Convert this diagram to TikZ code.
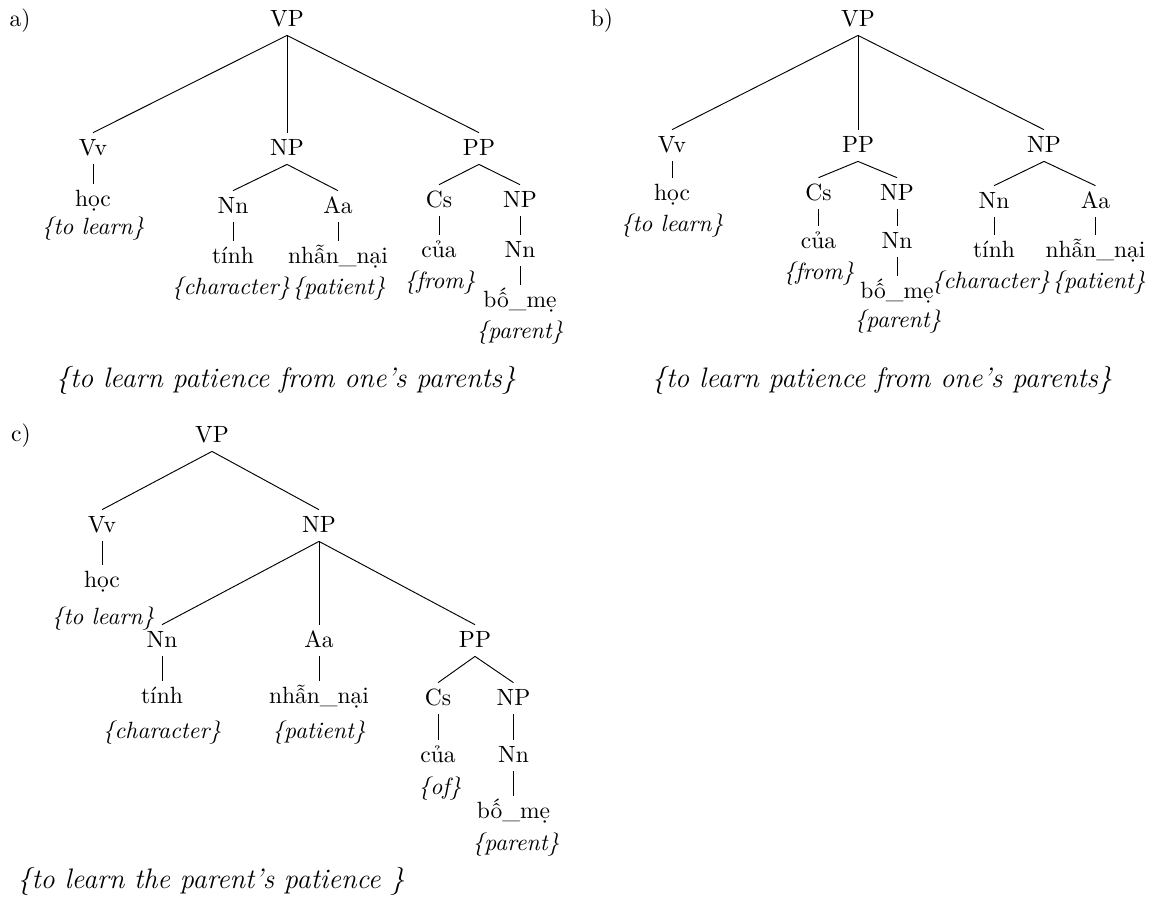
\documentclass[tikz,border=0pt]{standalone}
\usepackage{fontspec}
\newcommand\glosstext[1]{\textit{\{#1\}}}
\tikzset{
  tag/.style={anchor=base, inner sep=0pt},
  cat/.style={anchor=base, inner xsep=1pt, inner ysep=3.3pt, text height=6pt, text depth=0.5pt},
  gloss/.style={anchor=base, inner sep=0pt},
  sentence/.style={anchor=base, inner sep=0pt, font=\large},
  branch/.style={draw=black, line width=0.4pt}
}
\begin{document}
\begin{tikzpicture}[x=0.4255pt, y=-0.4255pt]
\useasboundingbox (0,0) rectangle (1156,898);

% ---------- a) ----------
\node[tag] (la) at (20,26) {a)};
\node[cat] (aVP) at (287,26) {VP};
\node[cat] (aVv) at (93,155) {Vv};
\node[cat] (aNP) at (287,155) {NP};
\node[cat] (aPP) at (479,155) {PP};
\node[cat] (aHoc) at (93,206) {học};
\node[gloss] (aHocG) at (93,234) {\glosstext{to learn}};
\node[cat] (aNn) at (233,213) {Nn};
\node[cat] (aAa) at (338,213) {Aa};
\node[cat] (aTinh) at (233,263) {tính};
\node[cat] (aNhan) at (338,263) {nhẫn\_nại};
\node[gloss] (aTinhG) at (231,294) {\glosstext{character}};
\node[gloss] (aNhanG) at (339,294) {\glosstext{patient}};
\node[cat] (aCs) at (439,207) {Cs};
\node[cat] (aNPb) at (520,207) {NP};
\node[cat] (aCua) at (439,257) {của};
\node[gloss] (aCuaG) at (440,288) {\glosstext{from}};
\node[cat] (aNnb) at (520,257) {Nn};
\node[cat] (aBome) at (520,307) {bố\_mẹ};
\node[gloss] (aBomeG) at (520,338) {\glosstext{parent}};
\node[sentence] (aSent) at (286,387) {\glosstext{to learn patience from one's parents}};

\draw[branch] (aVP.south) -- (aVv.north);
\draw[branch] (aVP.south) -- (aNP.north);
\draw[branch] (aVP.south) -- (aPP.north);
\draw[branch] (aVv.south) -- (aHoc.north);
\draw[branch] (aNP.south) -- (aNn.north);
\draw[branch] (aNP.south) -- (aAa.north);
\draw[branch] (aNn.south) -- (aTinh.north);
\draw[branch] (aAa.south) -- (aNhan.north);
\draw[branch] (aPP.south) -- (aCs.north);
\draw[branch] (aPP.south) -- (aNPb.north);
\draw[branch] (aCs.south) -- (aCua.north);
\draw[branch] (aNPb.south) -- (aNnb.north);
\draw[branch] (aNnb.south) -- (aBome.north);

% ---------- b) ----------
\node[tag] (lb) at (602,26) {b)};
\node[cat] (bVP) at (858,26) {VP};
\node[cat] (bVv) at (672,152) {Vv};
\node[cat] (bPP) at (858,152) {PP};
\node[cat] (bNP) at (1044,152) {NP};
\node[cat] (bHoc) at (672,200) {học};
\node[gloss] (bHocG) at (672,231) {\glosstext{to learn}};
\node[cat] (bCs) at (818.5,200) {Cs};
\node[cat] (bNPb) at (897,200) {NP};
\node[cat] (bCua) at (818.5,248) {của};
\node[gloss] (bCuaG) at (819,279) {\glosstext{from}};
\node[cat] (bNnb) at (897,248) {Nn};
\node[cat] (bBome) at (897,298) {bố\_mẹ};
\node[gloss] (bBomeG) at (898,327) {\glosstext{parent}};
\node[cat] (bNn) at (994,208) {Nn};
\node[cat] (bAa) at (1095.5,208) {Aa};
\node[cat] (bTinh) at (994,257) {tính};
\node[cat] (bNhan) at (1095.5,257) {nhẫn\_nại};
\node[gloss] (bTinhG) at (991,288) {\glosstext{character}};
\node[gloss] (bNhanG) at (1099,288) {\glosstext{patient}};
\node[sentence] (bSent) at (882,387) {\glosstext{to learn patience from one's parents}};

\draw[branch] (bVP.south) -- (bVv.north);
\draw[branch] (bVP.south) -- (bPP.north);
\draw[branch] (bVP.south) -- (bNP.north);
\draw[branch] (bVv.south) -- (bHoc.north);
\draw[branch] (bPP.south) -- (bCs.north);
\draw[branch] (bPP.south) -- (bNPb.north);
\draw[branch] (bCs.south) -- (bCua.north);
\draw[branch] (bNPb.south) -- (bNnb.north);
\draw[branch] (bNnb.south) -- (bBome.north);
\draw[branch] (bNP.south) -- (bNn.north);
\draw[branch] (bNP.south) -- (bAa.north);
\draw[branch] (bNn.south) -- (bTinh.north);
\draw[branch] (bAa.south) -- (bNhan.north);

% ---------- c) ----------
\node[tag] (lc) at (21,441) {c)};
\node[cat] (cVP) at (212,442) {VP};
\node[cat] (cVv) at (102,532) {Vv};
\node[cat] (cNP) at (319,532) {NP};
\node[cat] (cHoc) at (102,587) {học};
\node[gloss] (cHocG) at (103,624) {\glosstext{to learn}};
\node[cat] (cNn) at (162,647) {Nn};
\node[cat] (cAa) at (319,647) {Aa};
\node[cat] (cPP) at (475,647) {PP};
\node[cat] (cTinh) at (162,703) {tính};
\node[gloss] (cTinhG) at (162,738) {\glosstext{character}};
\node[cat] (cNhan) at (319,703) {nhẫn\_nại};
\node[gloss] (cNhanG) at (319,738) {\glosstext{patient}};
\node[cat] (cCs) at (438,705) {Cs};
\node[cat] (cNPb) at (513.5,705) {NP};
\node[cat] (cCua) at (438,762) {của};
\node[gloss] (cCuaG) at (440,794) {\glosstext{of}};
\node[cat] (cNnb) at (513.5,762) {Nn};
\node[cat] (cBome) at (513.5,818) {bố\_mẹ};
\node[gloss] (cBomeG) at (516,850) {\glosstext{parent}};
\node[sentence] (cSent) at (211,888) {\glosstext{to learn the parent's patience }};

\draw[branch] (cVP.south) -- (cVv.north);
\draw[branch] (cVP.south) -- (cNP.north);
\draw[branch] (cVv.south) -- (cHoc.north);
\draw[branch] (cNP.south) -- (cNn.north);
\draw[branch] (cNP.south) -- (cAa.north);
\draw[branch] (cNP.south) -- (cPP.north);
\draw[branch] (cNn.south) -- (cTinh.north);
\draw[branch] (cAa.south) -- (cNhan.north);
\draw[branch] (cPP.south) -- (cCs.north);
\draw[branch] (cPP.south) -- (cNPb.north);
\draw[branch] (cCs.south) -- (cCua.north);
\draw[branch] (cNPb.south) -- (cNnb.north);
\draw[branch] (cNnb.south) -- (cBome.north);
\end{tikzpicture}
\end{document}
